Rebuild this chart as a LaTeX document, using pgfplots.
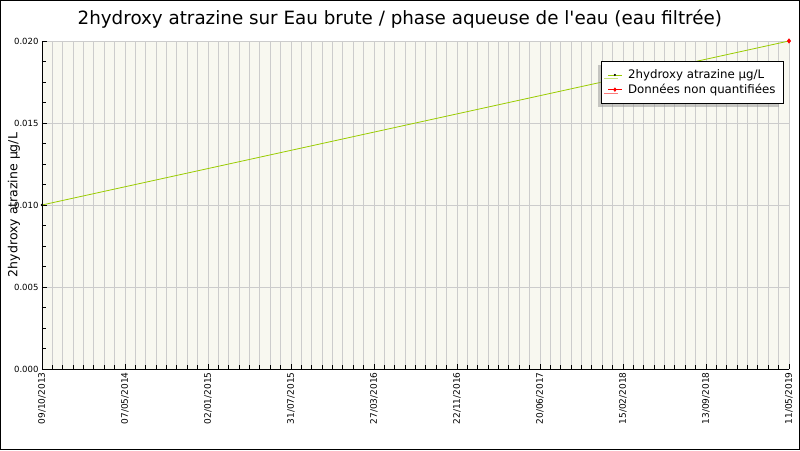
\documentclass[border=0pt]{standalone}
\usepackage{pgfplots}
\pgfplotsset{compat=1.18}
\usepackage{fontspec}
\setmainfont{DejaVu Sans}
\newfontfamily\titlefont{DejaVu Sans}
\usetikzlibrary{shadows}
\definecolor{plotbg}{HTML}{F8F8F0}
\definecolor{gridc}{HTML}{CCCCCC}
\definecolor{linec}{HTML}{99CC00}
\begin{document}
\begin{tikzpicture}[x=1pt,y=1pt]
\draw[black, line width=1pt, fill=white] (0.5,0.5) rectangle (799.5,449.5);
\begin{axis}[at={(42pt,81pt)}, anchor=south west, scale only axis, width=747pt, height=328pt,
  xmin=0, xmax=9, ymin=0, ymax=0.020,
  scaled y ticks=false,
  axis background/.style={fill=plotbg},
  axis x line*=bottom, axis y line*=left, axis line style={-, black},
  xtick={0,...,9},
  xticklabels={09/10/2013,07/05/2014,02/01/2015,31/07/2015,27/03/2016,22/11/2016,20/06/2017,15/02/2018,13/09/2018,11/05/2019},
  minor x tick num=7,
  x tick label style={rotate=90, anchor=east, font=\fontsize{9}{10}\selectfont},
  ytick={0,0.005,0.01,0.015,0.02},
  yticklabels={0.000,0.005,0.010,0.015,0.020},
  minor y tick num=3,
  y tick label style={font=\fontsize{8.5}{10}\selectfont},
  xmajorgrids, xminorgrids, ymajorgrids,
  grid style={gridc, line width=0.8pt},
  major grid style={gridc, line width=0.8pt},
  minor grid style={gridc, line width=0.8pt},
  tick style={black, line width=0.8pt}, tick align=inside,
  major tick length=5pt, minor tick length=4pt,
  ylabel={2hydroxy atrazine µg/L},
  ylabel style={at={(axis description cs:-0.0375,0.5)}, anchor=center, font=\fontsize{12.5}{14}\selectfont},
  title={\titlefont 2hydroxy atrazine sur Eau brute / phase aqueuse de l'eau (eau filtrée)},
  title style={at={(axis description cs:0.479,1.049)}, anchor=center, font=\fontsize{18.3}{21}\selectfont},
  legend style={at={(axis description cs:0.749,0.939)}, anchor=north west, draw=black, fill=white,
    font=\fontsize{11.8}{13}\selectfont, drop shadow={shadow xshift=-4pt, shadow yshift=-3.5pt, fill=gray!85},
    row sep=0pt, inner xsep=6pt, inner ysep=6.5pt},
  legend cell align=left,
  legend image post style={scale=0.8},
  clip=false,
]
\addplot[linec, line width=0.8pt, mark=*, mark size=0.7pt, mark options={black, fill=black}] coordinates {(0,0.010) (9,0.020)};
\addlegendentry{\hspace{4pt}2hydroxy atrazine µg/L}
\addplot[red, line width=0.8pt, mark=diamond*, mark size=2pt, mark options={red, fill=red}] coordinates {(9,0.020)};
\addlegendentry{\hspace{4pt}Données non quantifiées}
\end{axis}
\end{tikzpicture}
\end{document}
